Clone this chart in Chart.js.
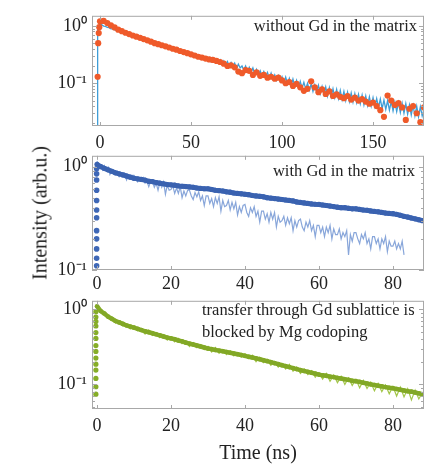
<!DOCTYPE html>
<html>
<head>
<meta charset="utf-8">
<script src="https://cdn.jsdelivr.net/npm/chart.js@4"></script>
<style>
body { margin: 0; background: #fff; width: 442px; height: 466px; position: relative; overflow: hidden; font-family: 'Liberation Serif', serif; }
.pane { position: absolute; left: 0; width: 442px; }
#ylab { position: absolute; left: 40px; top: 213px; transform: translate(-50%, -50%) rotate(-90deg); font-size: 20px; color: #222; white-space: nowrap; }
</style>
</head>
<body>
<div class="pane" style="top:0;height:150px"><canvas id="c1" width="442" height="150"></canvas></div>
<div class="pane" style="top:140px;height:150px"><canvas id="c2" width="442" height="150"></canvas></div>
<div class="pane" style="top:285px;height:181px"><canvas id="c3" width="442" height="181"></canvas></div>
<div id="ylab">Intensity (arb.u.)</div>
<script>
// ---- panel 1: without Gd (time step 1 ns for the line, 2 ns for the dots)
const xTicks1 = [0, 50, 100, 150];
const blueRiseT = [-1.6, -1.3];
const blueRiseV = [0.017, 0.9];
const blueStep = 1;
const blueValues = [
  1.08,1.04,0.99,0.98,0.94,0.93,0.89,0.89,0.85,0.84,
  0.82,0.79,0.79,0.75,0.75,0.72,0.72,0.69,0.69,0.66,
  0.66,0.63,0.63,0.6,0.6,0.57,0.575,0.54,0.55,0.52,
  0.53,0.49,0.5,0.47,0.49,0.44,0.46,0.43,0.44,0.4,
  0.42,0.385,0.4,0.37,0.385,0.35,0.37,0.33,0.35,0.32,
  0.335,0.3,0.32,0.29,0.31,0.275,0.3,0.265,0.285,0.26,
  0.28,0.24,0.275,0.235,0.26,0.225,0.255,0.215,0.245,0.21,
  0.24,0.2,0.23,0.195,0.225,0.18,0.215,0.185,0.2,0.17,
  0.2,0.16,0.19,0.155,0.185,0.145,0.175,0.14,0.165,0.135,
  0.16,0.13,0.155,0.122,0.15,0.118,0.14,0.112,0.135,0.108,
  0.13,0.1,0.128,0.098,0.122,0.09,0.118,0.088,0.112,0.085,
  0.108,0.082,0.104,0.08,0.1,0.076,0.097,0.072,0.094,0.07,
  0.092,0.066,0.088,0.064,0.086,0.06,0.084,0.058,0.08,0.056,
  0.078,0.054,0.075,0.052,0.072,0.05,0.07,0.048,0.068,0.047,
  0.066,0.046,0.064,0.044,0.062,0.042,0.06,0.041,0.058,0.04,
  0.056,0.039,0.054,0.038,0.053,0.036,0.051,0.035,0.05,0.034,
  0.048,0.033,0.047,0.032,0.046,0.031,0.045,0.03,0.044,0.029,
  0.042,0.028,0.041,0.027,0.04,0.026,0.039,0.027,0.035
];
const orangeRiseT = [-1.3, -1.0, -0.7, -0.4];
const orangeRiseV = [0.13, 0.5, 0.75, 0.95];
const orangeStep = 2;
const orangeValues = [
  1.2,1.22,1.12,1.02,0.94,0.86,0.81,0.76,0.72,0.68,
  0.65,0.62,0.59,0.56,0.53,0.5,0.48,0.46,0.44,0.42,
  0.4,0.385,0.365,0.35,0.335,0.32,0.305,0.29,0.28,0.27,
  0.26,0.255,0.245,0.235,0.22,0.2,0.205,0.19,0.16,0.15,
  0.17,0.165,0.14,0.155,0.135,0.14,0.125,0.13,0.12,0.125,
  0.112,0.1,0.105,0.09,0.098,0.085,0.074,0.08,0.108,0.085,
  0.07,0.078,0.065,0.072,0.06,0.064,0.058,0.055,0.06,0.052,
  0.056,0.05,0.053,0.048,0.044,0.046,0.04,0.034,0.026,0.061,
  0.05,0.042,0.045,0.038,0.023,0.036,0.04,0.03,0.021,0.038
];

// ---- panel 2: with Gd
const xTicks23 = [0, 20, 40, 60, 80];
const darkRiseT = -0.1;
const darkRiseV = [0.11,0.13,0.16,0.2,0.24,0.32,0.38,0.47,0.59,0.74,0.85,0.95];
const darkStep = 1;
const darkValues = [
  1.05,1.0,0.96,0.93,0.9,0.87,0.85,0.83,0.81,0.79,
  0.77,0.76,0.75,0.74,0.72,0.715,0.70,0.69,0.68,0.67,
  0.665,0.66,0.65,0.645,0.64,0.635,0.63,0.62,0.615,0.61,
  0.61,0.6,0.59,0.585,0.58,0.57,0.565,0.555,0.55,0.545,
  0.54,0.535,0.525,0.52,0.515,0.51,0.5,0.495,0.49,0.485,
  0.48,0.475,0.47,0.465,0.455,0.45,0.445,0.44,0.435,0.432,
  0.43,0.425,0.42,0.415,0.41,0.405,0.40,0.40,0.395,0.39,
  0.39,0.385,0.38,0.378,0.372,0.368,0.365,0.36,0.355,0.352,
  0.35,0.345,0.338,0.33,0.325,0.318,0.312,0.306,0.30
];
const lightStep = 0.5;
const lightValues = [
  1.13,1.02,1.04,0.93,1.02,0.94,0.99,0.84,0.92,0.85,
  0.85,0.9,0.8,0.86,0.8,0.86,0.74,0.81,0.76,0.82,
  0.82,0.75,0.71,0.77,0.73,0.78,0.69,0.72,0.64,0.72,
  0.72,0.63,0.69,0.59,0.70,0.63,0.71,0.54,0.66,0.59,
  0.6,0.65,0.55,0.62,0.55,0.64,0.5,0.58,0.52,0.59,
  0.59,0.52,0.48,0.56,0.51,0.57,0.47,0.52,0.42,0.52,
  0.52,0.44,0.49,0.41,0.5,0.44,0.51,0.37,0.47,0.41,
  0.42,0.47,0.38,0.45,0.39,0.45,0.34,0.41,0.36,0.42,
  0.43,0.36,0.33,0.4,0.36,0.41,0.33,0.37,0.29,0.37,
  0.37,0.31,0.35,0.29,0.36,0.31,0.36,0.26,0.33,0.29,
  0.3,0.33,0.27,0.32,0.28,0.32,0.24,0.3,0.26,0.3,
  0.31,0.26,0.24,0.29,0.26,0.3,0.24,0.27,0.21,0.27,
  0.27,0.23,0.26,0.21,0.26,0.23,0.27,0.2,0.25,0.22,
  0.22,0.25,0.2,0.23,0.21,0.24,0.14,0.22,0.19,0.23,
  0.23,0.2,0.18,0.22,0.2,0.23,0.18,0.2,0.16,0.21,
  0.21,0.18,0.2,0.16,0.2,0.18,0.21,0.15,0.19,0.17,
  0.17,0.19,0.16,0.18,0.16,0.19,0.14
];

// ---- panel 3: Mg codoped
const greenRiseT = -0.3;
const greenRiseV = [0.074,0.093,0.12,0.155,0.186,0.224,0.275,0.33,0.41,0.49,0.6,0.69,0.79,0.93];
const greenStep = 1;
const greenDots = [
  1.1,0.95,0.88,0.8,0.75,0.7,0.67,0.64,0.61,0.59,
  0.57,0.55,0.53,0.51,0.495,0.48,0.465,0.45,0.435,0.42,
  0.41,0.4,0.385,0.375,0.36,0.35,0.34,0.33,0.32,0.31,
  0.30,0.295,0.288,0.282,0.276,0.27,0.264,0.258,0.252,0.246,
  0.24,0.234,0.228,0.222,0.216,0.21,0.204,0.198,0.192,0.186,
  0.18,0.175,0.17,0.165,0.16,0.155,0.151,0.147,0.143,0.139,
  0.135,0.132,0.13,0.127,0.125,0.122,0.12,0.117,0.115,0.112,
  0.11,0.108,0.105,0.103,0.1,0.098,0.096,0.094,0.092,0.09,
  0.089,0.087,0.085,0.083,0.081,0.08,0.078,0.076,0.074
];
const greenLine = [
  1.18,0.92,0.9,0.76,0.78,0.66,0.7,0.6,0.63,0.55,
  0.6,0.52,0.55,0.47,0.53,0.45,0.49,0.42,0.46,0.39,
  0.43,0.37,0.41,0.35,0.38,0.32,0.36,0.31,0.34,0.29,
  0.32,0.27,0.31,0.26,0.29,0.25,0.28,0.24,0.265,0.23,
  0.255,0.22,0.245,0.2,0.23,0.195,0.215,0.18,0.2,0.17,
  0.19,0.16,0.185,0.15,0.17,0.14,0.16,0.135,0.152,0.125,
  0.143,0.118,0.14,0.11,0.133,0.105,0.128,0.1,0.122,0.097,
  0.117,0.09,0.113,0.088,0.107,0.082,0.103,0.08,0.098,0.075,
  0.094,0.07,0.092,0.068,0.088,0.062,0.084,0.064,0.078
];

const yMinor = [0.02,0.03,0.04,0.05,0.06,0.07,0.08,0.09,0.1,0.2,0.3,0.4,0.5,0.6,0.7,0.8,0.9,1];
const FONT = "'Liberation Serif', serif";

function pts(t0, step, vals) {
  return vals.map((v, i) => ({ x: t0 + i * step, y: v }));
}
function pairs(ts, vals) {
  return vals.map((v, i) => ({ x: Array.isArray(ts) ? ts[i] : ts, y: v }));
}

const framePlugin = {
  id: 'frame',
  afterDraw(chart, args, opts) {
    const { ctx, chartArea: a, scales } = chart;
    const x = scales.x, y = scales.y;
    ctx.save();
    ctx.strokeStyle = '#a8a8a8';
    ctx.lineWidth = 1;
    ctx.strokeRect(a.left + 0.5, a.top + 0.5, a.right - a.left - 1, a.bottom - a.top - 1);
    ctx.beginPath();
    x.ticks.forEach(t => {
      const px = Math.round(x.getPixelForValue(t.value)) + 0.5;
      ctx.moveTo(px, a.bottom); ctx.lineTo(px, a.bottom - 4);
      ctx.moveTo(px, a.top); ctx.lineTo(px, a.top + 4);
    });
    yMinor.forEach(v => {
      if (v < y.min || v > y.max) return;
      const py = Math.round(y.getPixelForValue(v)) + 0.5;
      const len = (v === 0.1 || v === 1) ? 5 : 3;
      ctx.moveTo(a.left, py); ctx.lineTo(a.left + len, py);
      ctx.moveTo(a.right, py); ctx.lineTo(a.right - len, py);
    });
    ctx.stroke();
    ctx.fillStyle = '#222';
    ctx.font = '16.5px ' + FONT;
    ctx.textBaseline = 'middle';
    (opts.lines || []).forEach(l => {
      ctx.textAlign = l.align;
      ctx.fillText(l.text, l.x, l.y);
    });
    ctx.restore();
  }
};

function makeChart(id, cfg) {
  return new Chart(document.getElementById(id), {
    type: 'scatter',
    data: { datasets: cfg.datasets },
    options: {
      responsive: false,
      animation: false,
      layout: { padding: { top: cfg.top, right: 18, left: 0, bottom: 0 } },
      plugins: { legend: { display: false }, tooltip: { enabled: false }, frame: { lines: cfg.lines } },
      scales: {
        x: {
          type: 'linear', min: cfg.xmin, max: cfg.xmax,
          afterBuildTicks: s => { s.ticks = cfg.xTicks.map(v => ({ value: v })); },
          afterFit: s => { s.height = cfg.xHeight; },
          grid: { display: false, drawTicks: false },
          border: { display: false },
          ticks: { padding: cfg.xPad, color: '#222', font: { family: FONT, size: 18 }, maxRotation: 0 },
          title: cfg.xTitle ? { display: true, text: cfg.xTitle, color: '#222', font: { family: FONT, size: 20 }, padding: { top: 0, bottom: 0 } } : { display: false }
        },
        y: {
          type: 'logarithmic', min: cfg.ymin, max: cfg.ymax,
          afterBuildTicks: s => { s.ticks = [{ value: 0.1 }, { value: 1 }]; },
          afterFit: s => { s.width = 92; },
          grid: { display: false, drawTicks: false },
          border: { display: false },
          ticks: { padding: 5, color: '#222', font: { family: FONT, size: 18 },
                   callback: v => v === 1 ? '10\u2070' : '10\u207b\u00b9' }
        }
      }
    },
    plugins: [framePlugin]
  });
}

makeChart('c1', {
  top: 12, xHeight: 24, xPad: 6, xmin: -4.4, xmax: 178, xTicks: xTicks1, ymin: 0.018, ymax: 1.5,
  lines: [{ text: 'without Gd in the matrix', x: 417, y: 27, align: 'right' }],
  datasets: [
    { data: pairs(orangeRiseT, orangeRiseV).concat(pts(0, orangeStep, orangeValues)), showLine: false,
      pointRadius: 3.1, pointBorderWidth: 0, backgroundColor: '#ef5a2a', order: 1 },
    { data: pairs(blueRiseT, blueRiseV).concat(pts(0, blueStep, blueValues)), showLine: true,
      pointRadius: 0, borderWidth: 1.3, borderColor: '#3f9dd6', order: 2 }
  ]
});

makeChart('c2', {
  top: 14, xHeight: 20, xPad: 3, xmin: -1.35, xmax: 88.4, xTicks: xTicks23, ymin: 0.1, ymax: 1.27,
  lines: [{ text: 'with Gd in the matrix', x: 415, y: 32, align: 'right' }],
  datasets: [
    { data: pairs(darkRiseT, darkRiseV), showLine: false,
      pointRadius: 2.8, pointBorderWidth: 0, backgroundColor: '#3e67b6', order: 1 },
    { data: pts(0, darkStep, darkValues), showLine: true, borderWidth: 5, borderColor: '#3e67b6',
      pointRadius: 2.6, pointBorderWidth: 0, backgroundColor: '#3a62b0', order: 2 },
    { data: pts(0, lightStep, lightValues), showLine: true,
      pointRadius: 0, borderWidth: 1.2, borderColor: '#88a6da', order: 3 }
  ]
});

makeChart('c3', {
  top: 10, xHeight: 57, xPad: 6, xmin: -1.35, xmax: 88.4, xTicks: xTicks23, ymin: 0.047, ymax: 1.3,
  xTitle: 'Time (ns)',
  lines: [
    { text: 'transfer through Gd sublattice is', x: 202, y: 26, align: 'left' },
    { text: 'blocked by Mg codoping', x: 202, y: 48, align: 'left' }
  ],
  datasets: [
    { data: pairs(greenRiseT, greenRiseV), showLine: false,
      pointRadius: 2.6, pointBorderWidth: 0, backgroundColor: '#86ad28', order: 1 },
    { data: pts(0, greenStep, greenDots), showLine: true, borderWidth: 4.5, borderColor: '#86ad28',
      pointRadius: 2.3, pointBorderWidth: 0, backgroundColor: '#82a826', order: 2 },
    { data: pts(0, greenStep, greenLine), showLine: true,
      pointRadius: 0, borderWidth: 1.2, borderColor: '#a3c64a', order: 3 }
  ]
});
</script>
</body>
</html>
